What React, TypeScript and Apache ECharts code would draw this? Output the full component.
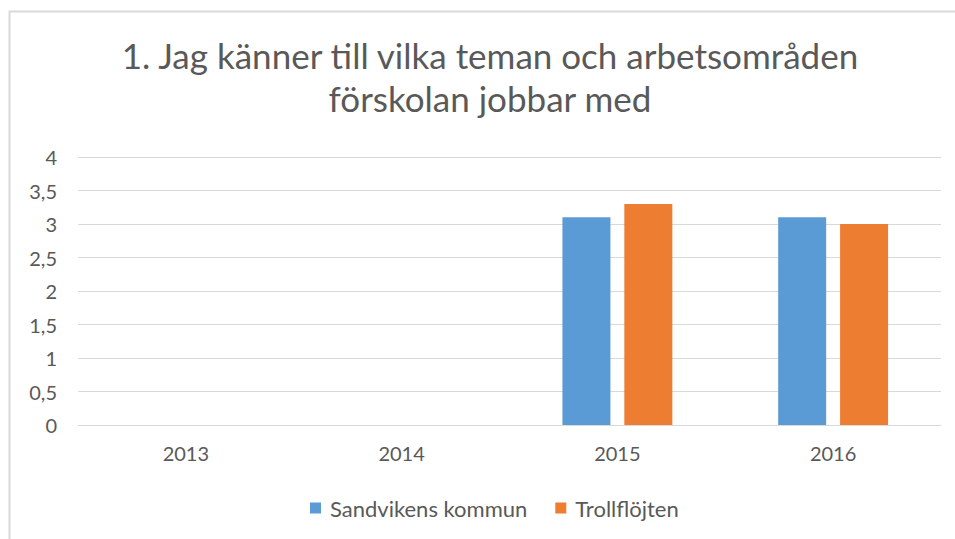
import React, { useEffect, useRef } from "react";
import * as echarts from "echarts";

const titleLines = ["1. Jag känner till vilka teman och arbetsområden", "förskolan jobbar med"];
const categories = ["2013", "2014", "2015", "2016"];
const seriesNames = ["Sandvikens kommun", "Trollflöjten"];
const sandvikenValues: (number | null)[] = [null, null, 3.1, 3.1];
const trollflojtenValues: (number | null)[] = [null, null, 3.3, 3.0];
const yMin = 0;
const yMax = 4;
const yStep = 0.5;

const TEXT = "#595959";
const GRIDC = "#D9D9D9";
const FONT = "Lato, 'Open Sans', sans-serif";

export default function App() {
  const ref = useRef<HTMLDivElement>(null);
  useEffect(() => {
    if (!ref.current) return;
    const chart = echarts.init(ref.current, null, { renderer: "svg" });
    chart.setOption({
      animation: false,
      backgroundColor: "#ffffff",
      title: {
        text: titleLines.join("\n"),
        left: 490,
        top: 33,
        padding: 0,
        textAlign: "center",
        textStyle: { color: TEXT, fontFamily: FONT, fontWeight: "normal", fontSize: 35, lineHeight: 43 },
      },
      graphic: [
        {
          type: "rect",
          shape: { x: 9.5, y: 11.5, width: 1000, height: 600 },
          style: { fill: "none", stroke: GRIDC, lineWidth: 2 },
          silent: true,
        },
      ],
      legend: {
        data: seriesNames,
        left: 305,
        top: 491,
        itemWidth: 11,
        itemHeight: 11,
        itemGap: 28,
        icon: "rect",
        textStyle: { color: TEXT, fontFamily: FONT, fontSize: 22, lineHeight: 24, padding: [0, 0, 0, 4] },
      },
      grid: { left: 78, right: 14, top: 157, bottom: 114 },
      xAxis: {
        type: "category",
        data: categories,
        axisLine: { lineStyle: { color: GRIDC, width: 1 } },
        axisTick: { show: false },
        axisLabel: { color: TEXT, fontFamily: FONT, fontSize: 20, margin: 18 },
      },
      yAxis: {
        type: "value",
        min: yMin,
        max: yMax,
        interval: yStep,
        axisLine: { show: false },
        axisTick: { show: false },
        splitLine: { lineStyle: { color: GRIDC, width: 1 } },
        axisLabel: {
          color: TEXT,
          fontFamily: FONT,
          fontSize: 20,
          margin: 21,
          formatter: (v: number) => String(v).replace(".", ","),
        },
      },
      series: [
        {
          name: seriesNames[0],
          type: "bar",
          data: sandvikenValues,
          barWidth: 48,
          barGap: "29%",
          itemStyle: { color: "#5B9BD5" },
        },
        {
          name: seriesNames[1],
          type: "bar",
          data: trollflojtenValues,
          barWidth: 48,
          barGap: "29%",
          itemStyle: { color: "#ED7D31" },
        },
      ],
    });
    return () => chart.dispose();
  }, []);
  return (
    <div
      ref={ref}
      style={{ position: "fixed", left: 0, top: 0, width: 955, height: 539, background: "#fff" }}
    />
  );
}
